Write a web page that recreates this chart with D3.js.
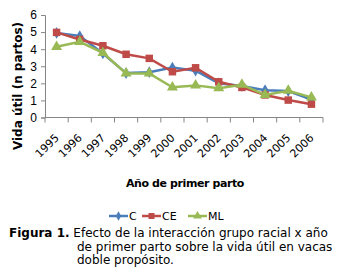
<!DOCTYPE html>
<html>
<head>
<meta charset="utf-8">
<script src="https://cdn.jsdelivr.net/npm/d3@7"></script>
<style>
  body { margin: 0; background: #fff; }
  svg { font-family: "DejaVu Sans", Verdana, sans-serif; }
</style>
</head>
<body>
<svg id="chart" width="338" height="273"></svg>
<script>
// categories and series
const YEARS = ['1995', '1996', '1997', '1998', '1999', '2000', '2001', '2002', '2003', '2004', '2005', '2006'];
const C_VALUES = [4.95, 4.77, 3.75, 2.6, 2.65, 2.92, 2.74, 2.0, 1.85, 1.6, 1.55, 1.05];
const CE_VALUES = [4.98, 4.57, 4.2, 3.7, 3.46, 2.68, 2.91, 2.09, 1.76, 1.32, 1.02, 0.78];
const ML_VALUES = [4.14, 4.43, 3.78, 2.58, 2.58, 1.77, 1.88, 1.72, 1.92, 1.32, 1.57, 1.18];
const Y_TICKS = [0, 1, 2, 3, 4, 5, 6];

const SERIES = [
    { name: 'C', values: C_VALUES, color: '#4a7ebb', marker: 'diamond' },
    { name: 'CE', values: CE_VALUES, color: '#be4b48', marker: 'square' },
    { name: 'ML', values: ML_VALUES, color: '#98b954', marker: 'triangle' }
];

const SVG1 = d3.select('#chart');
const LEFT = 45, RIGHT = 323, TOP = 15, BOTTOM = 117.5;
const AXIS_COLOR = '#868686';

const X_SCALE = d3.scaleBand().domain(YEARS).range([LEFT, RIGHT]);
const Y_SCALE = d3.scaleLinear().domain([0, 6]).range([BOTTOM, TOP]);

// y axis
const yAxisGroup = SVG1.append('g')
    .attr('transform', `translate(${LEFT},0)`)
    .call(d3.axisLeft(Y_SCALE).tickValues(Y_TICKS).tickFormat(d3.format('d')).tickSize(4).tickPadding(4));
yAxisGroup.selectAll('line, path').attr('stroke', AXIS_COLOR);
yAxisGroup.selectAll('text').style('font-size', '12px').attr('fill', '#000');

// x axis, ticks between categories
const xAxisGroup = SVG1.append('g')
    .attr('transform', `translate(0,${BOTTOM})`);
xAxisGroup.append('line')
    .attr('x1', LEFT).attr('x2', RIGHT)
    .attr('stroke', AXIS_COLOR);
xAxisGroup.selectAll('line.tick')
    .data(YEARS.concat(['end']))
    .join('line')
    .attr('class', 'tick')
    .attr('x1', (d, i) => LEFT + i * X_SCALE.step())
    .attr('x2', (d, i) => LEFT + i * X_SCALE.step())
    .attr('y1', 0).attr('y2', 5)
    .attr('stroke', AXIS_COLOR);
xAxisGroup.selectAll('text')
    .data(YEARS)
    .join('text')
    .attr('transform', d => `translate(${X_SCALE(d) + X_SCALE.bandwidth() / 2 + 3},${21}) rotate(-45)`)
    .attr('text-anchor', 'end')
    .style('font-size', '11px')
    .text(d => d);

// axis titles
SVG1.append('text')
    .attr('transform', 'translate(22,86) rotate(-90)')
    .attr('text-anchor', 'middle')
    .style('font-size', '12px')
    .style('font-weight', 'bold')
    .text('Vida útil (n partos)');

SVG1.append('text')
    .attr('x', 185).attr('y', 187)
    .attr('text-anchor', 'middle')
    .style('font-size', '11px')
    .style('font-weight', 'bold')
    .style('letter-spacing', '-0.4px')
    .text('Año de primer parto');

const markerPath = (type) => {
    if (type === 'diamond') return d3.symbol(d3.symbolDiamond, 40)();
    if (type === 'square') return d3.symbol(d3.symbolSquare, 56)();
    return d3.symbol(d3.symbolTriangle, 52)();
};

const line = d3.line()
    .x((d, i) => X_SCALE(YEARS[i]) + X_SCALE.bandwidth() / 2)
    .y(d => Y_SCALE(d));

SERIES.forEach(s => {
    const g = SVG1.append('g');
    g.append('path')
        .attr('d', line(s.values))
        .attr('fill', 'none')
        .attr('stroke', s.color)
        .attr('stroke-width', 2.5);
    g.selectAll('path.marker')
        .data(s.values)
        .join('path')
        .attr('class', 'marker')
        .attr('d', markerPath(s.marker))
        .attr('transform', (d, i) => `translate(${X_SCALE(YEARS[i]) + X_SCALE.bandwidth() / 2},${Y_SCALE(d)})`)
        .attr('fill', s.color);
});

// legend
const LEGEND_X = [109, 142, 188];
const legend = SVG1.append('g');
SERIES.forEach((s, i) => {
    const lg = legend.append('g').attr('transform', `translate(${LEGEND_X[i]},216)`);
    lg.append('line').attr('x1', 0).attr('x2', 19).attr('stroke', s.color).attr('stroke-width', 2.5);
    lg.append('path').attr('d', markerPath(s.marker)).attr('transform', 'translate(9.5,0) scale(0.8)').attr('fill', s.color);
    lg.append('text').attr('x', 20).attr('y', 4).style('font-size', '11px').text(s.name);
});

// caption
const caption = SVG1.append('text').style('font-size', '12px');
const l1 = caption.append('tspan').attr('x', 9).attr('y', 237);
l1.append('tspan').style('font-weight', 'bold').text('Figura 1.');
l1.append('tspan').text(' Efecto de la interacción grupo racial x año');
caption.append('tspan').attr('x', 77).attr('y', 251).text('de primer parto sobre la vida útil en vacas');
caption.append('tspan').attr('x', 77).attr('y', 264).text('doble propósito.');
</script>
</body>
</html>
